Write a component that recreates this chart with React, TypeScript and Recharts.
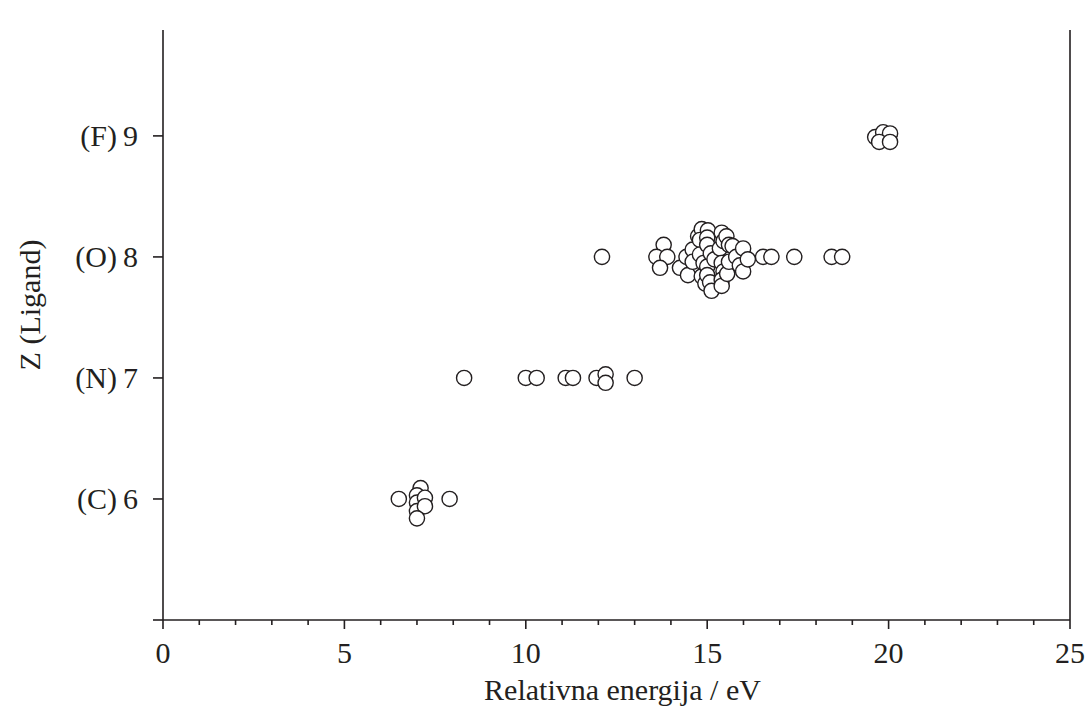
import React from "react";
import {
  ScatterChart,
  Scatter,
  XAxis,
  YAxis,
  ReferenceLine,
  Label,
} from "recharts";

// [relative energy (eV), Z of ligand]
const C_POINTS = [
  [6.5, 6.0], [7.1, 6.09], [7.0, 6.03], [7.0, 5.97], [7.0, 5.9],
  [7.22, 6.01], [7.22, 5.94], [7.0, 5.84], [7.9, 6.0],
];

const N_POINTS = [
  [8.3, 7.0], [10.0, 7.0], [10.3, 7.0], [11.1, 7.0], [11.3, 7.0],
  [11.95, 7.0], [12.2, 7.03], [12.2, 6.96], [13.0, 7.0],
];

const O_POINTS = [
  [12.1, 8.0],
  [13.8, 8.1], [13.6, 8.0], [13.9, 8.0], [13.7, 7.91],
  [14.25, 7.91], [14.43, 8.0], [14.47, 7.85], [14.6, 8.06], [14.6, 7.96],
  [14.75, 8.17], [14.85, 8.23], [14.8, 8.14], [14.8, 8.02], [14.9, 7.95],
  [14.85, 7.84], [14.95, 7.78], [15.02, 8.22], [15.0, 8.16], [15.0, 8.1],
  [15.0, 7.92], [15.0, 7.85], [15.08, 7.79], [15.12, 7.72], [15.1, 8.03],
  [15.2, 7.98], [15.35, 8.07], [15.4, 8.2], [15.45, 8.13], [15.53, 8.17],
  [15.4, 7.95], [15.45, 7.88], [15.4, 7.81], [15.4, 7.76], [15.55, 7.86],
  [15.6, 8.1], [15.6, 7.96], [15.7, 8.09], [15.8, 8.0], [15.9, 7.93],
  [15.99, 8.07], [15.99, 7.88], [16.12, 7.98],
  [16.54, 8.0], [16.77, 8.0], [17.4, 8.0], [18.43, 8.0], [18.72, 8.0],
];

const F_POINTS = [
  [19.63, 8.99], [19.85, 9.03], [20.04, 9.02], [19.74, 8.95], [20.04, 8.95],
];

const X_TICKS = [
  0, 1, 2, 3, 4, 5, 6, 7, 8, 9, 10, 11, 12, 13, 14, 15, 16, 17, 18, 19, 20,
  21, 22, 23, 24, 25,
];
const X_LABELED = [0, 5, 10, 15, 20, 25];
const Y_TICKS = [5, 6, 7, 8, 9];
const LIGANDS: Record<number, string> = { 6: "(C)", 7: "(N)", 8: "(O)", 9: "(F)" };

const INK = "#231f20";
const FONT = "'Liberation Serif', 'Times New Roman', serif";

const toRows = (pts: number[][]) => pts.map(([e, z]) => ({ e, z }));

const dot = (p: any) => (
  <circle cx={p.cx} cy={p.cy} r={7.6} fill="#fff" stroke={INK} strokeWidth={1.4} />
);

const XTick = (props: any) => {
  const { x, y, payload } = props;
  const major = X_LABELED.includes(payload.value);
  return (
    <g>
      <line x1={x} x2={x} y1={y} y2={y + (major ? 9 : 5)} stroke={INK} strokeWidth={1.6} />
      {major && (
        <text x={x} y={y + 43} textAnchor="middle" fontSize={30} fill={INK} fontFamily={FONT}>
          {payload.value}
        </text>
      )}
    </g>
  );
};

const YTick = (props: any) => {
  const { x, y, payload } = props;
  const lig = LIGANDS[payload.value];
  return (
    <g>
      <line x1={x - 10} x2={x} y1={y} y2={y} stroke={INK} strokeWidth={1.6} />
      {lig && (
        <>
          <text x={x - 46} y={y + 10} textAnchor="end" fontSize={30} fill={INK} fontFamily={FONT}>
            {lig}
          </text>
          <text x={x - 25} y={y + 10} textAnchor="end" fontSize={30} fill={INK} fontFamily={FONT}>
            {payload.value}
          </text>
        </>
      )}
    </g>
  );
};

export default function App() {
  return (
    <div style={{ position: "absolute", left: 0, top: 0, background: "#fff" }}>
      <ScatterChart
        width={1087}
        height={708}
        margin={{ top: 30, right: 17, bottom: 0, left: 0 }}
      >
        <XAxis
          type="number"
          dataKey="e"
          domain={[0, 25]}
          ticks={X_TICKS}
          interval={0}
          tickSize={0}
          tickMargin={0}
          tickLine={false}
          axisLine={{ stroke: INK, strokeWidth: 1.6 }}
          tick={XTick}
          height={88}
        >
          <Label
            content={(p: any) => {
              const vb = p.viewBox;
              return (
                <text
                  x={vb.x + vb.width / 2 + 6}
                  y={700}
                  textAnchor="middle"
                  fontSize={30}
                  fill={INK}
                  fontFamily={FONT}
                >
                  Relativna energija / eV
                </text>
              );
            }}
          />
        </XAxis>
        <YAxis
          type="number"
          dataKey="z"
          domain={[5, 9.875]}
          ticks={Y_TICKS}
          interval={0}
          tickSize={0}
          tickMargin={0}
          tickLine={false}
          axisLine={{ stroke: INK, strokeWidth: 1.6 }}
          tick={YTick}
          width={163}
        >
          <Label
            content={() => (
              <text
                x={40}
                y={305}
                transform="rotate(-90 40 305)"
                textAnchor="middle"
                fontSize={30}
                fill={INK}
                fontFamily={FONT}
              >
                Z (Ligand)
              </text>
            )}
          />
        </YAxis>
        <ReferenceLine x={25} stroke={INK} strokeWidth={1.6} />
        <Scatter data={toRows(C_POINTS)} shape={dot} isAnimationActive={false} />
        <Scatter data={toRows(N_POINTS)} shape={dot} isAnimationActive={false} />
        <Scatter data={toRows(O_POINTS)} shape={dot} isAnimationActive={false} />
        <Scatter data={toRows(F_POINTS)} shape={dot} isAnimationActive={false} />
      </ScatterChart>
    </div>
  );
}
